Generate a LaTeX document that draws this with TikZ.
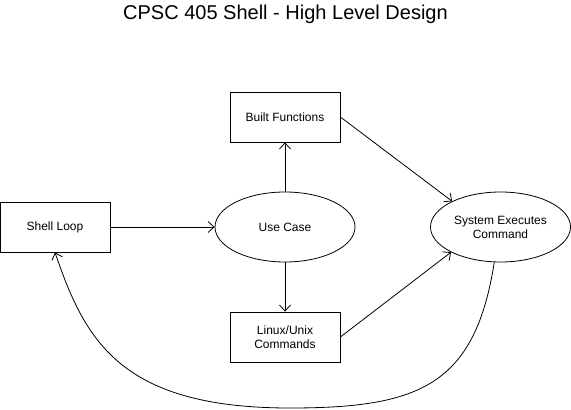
\documentclass[tikz,border=0pt]{standalone}
\usepackage{fontspec}
\setmainfont{Liberation Sans}
\usetikzlibrary{positioning,shapes.geometric,arrows.meta}

\begin{document}
\begin{tikzpicture}[
    x=1pt, y=-1pt,
    every node/.style={font=\fontsize{12}{14}\selectfont, align=center},
    box/.style={draw, line width=0.8pt, minimum width=110pt, minimum height=50pt, inner sep=0pt},
    oval/.style={draw, ellipse, line width=0.8pt, minimum width=140pt, minimum height=70pt, inner sep=0pt},
    arrow/.style={-{Straight Barb[length=6pt,width=11pt]}, line width=0.8pt},
]
\useasboundingbox (0,0) rectangle (571,410);

% Title
\node[font=\fontsize{20}{24}\selectfont] (title) at (285.5,14) {CPSC 405 Shell - High Level Design};

% Shell loop and use case
\node[box] (loop) at (55,227) {Shell Loop};
\node[oval] (usecase) at (285,227) {Use Case};

% Branches
\node[box] (builtin) at (285,117) {Built Functions};
\node[box] (linux) at (285,337) {Linux/Unix\\Commands};

% Execution
\node[oval] (exec) at (500.5,227) {System Executes\\Command};

% Arrows
\draw[arrow] (loop) -- (usecase);
\draw[arrow] (usecase) -- (builtin);
\draw[arrow] (usecase) -- (linux);
\draw[arrow] (builtin.east) -- (exec.152);
\draw[arrow] (linux.east) -- (exec.-153);
\draw[arrow] (exec.-100) .. controls (475,385) and (420,408) .. (290,408)
    .. controls (120,408) and (85,340) .. (loop.south);
\end{tikzpicture}
\end{document}
